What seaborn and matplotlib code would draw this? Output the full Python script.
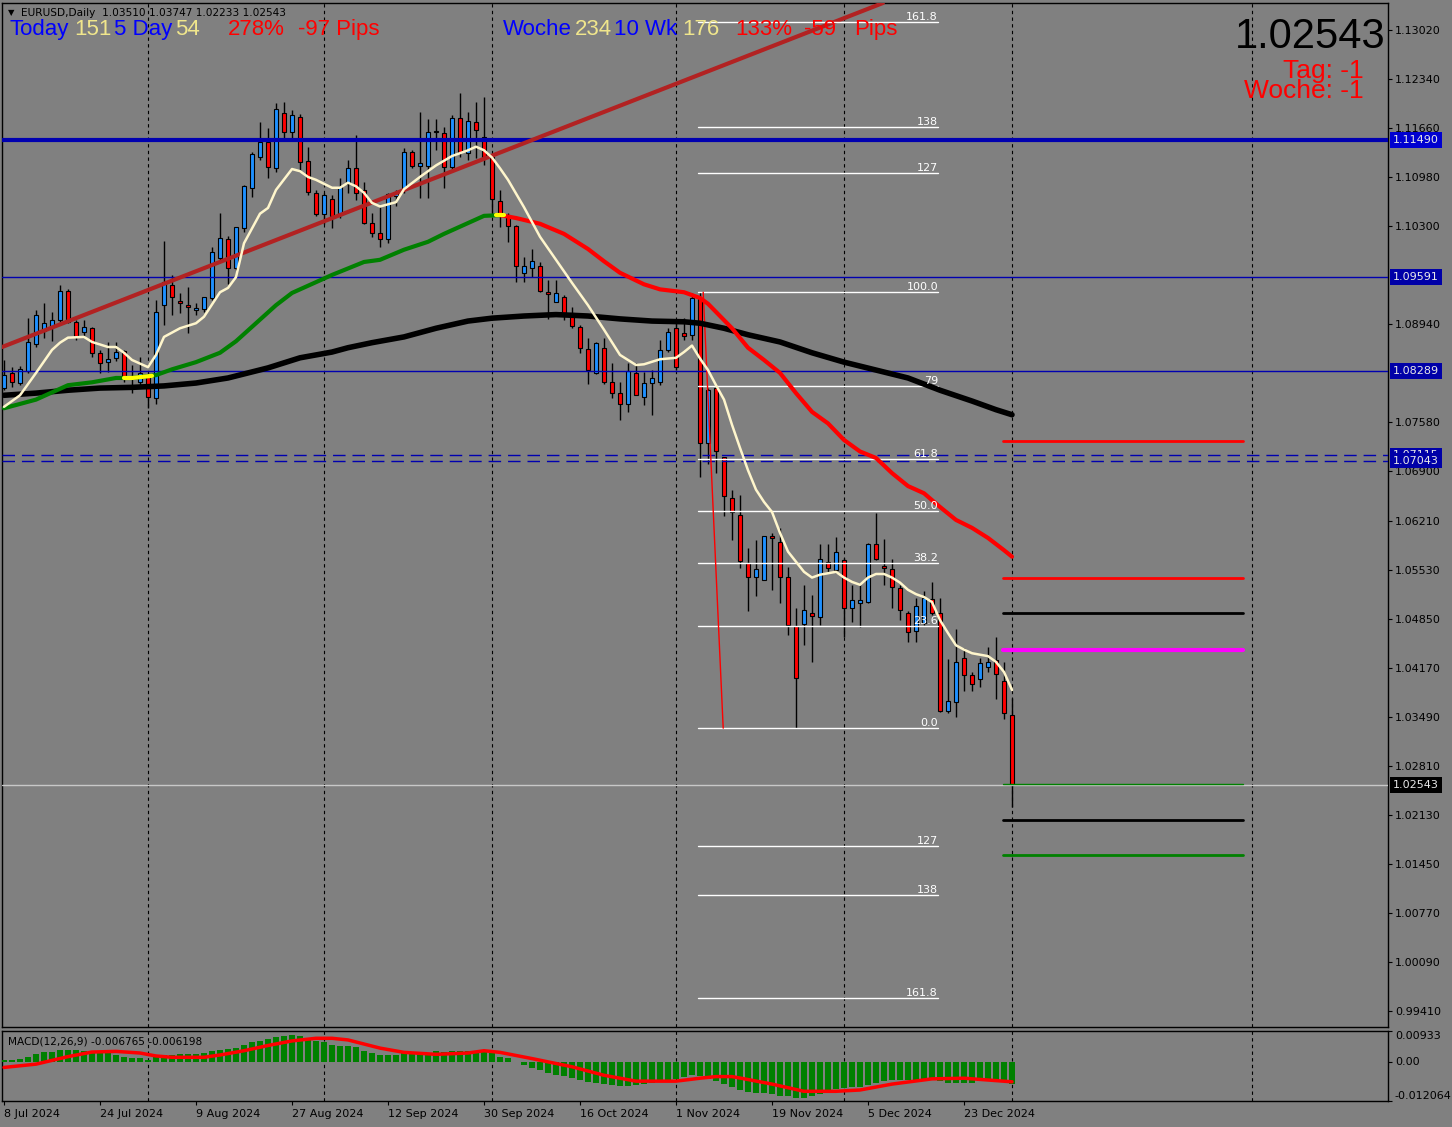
import matplotlib
matplotlib.use("Agg")
import matplotlib.pyplot as plt
import matplotlib.transforms as mtransforms
import numpy as np
import seaborn as sns

# EURUSD daily candles, 8 Jul 2024 .. 2 Jan 2025 (bar index 0..126)
opens = [1.0805, 1.0826, 1.0812, 1.0829, 1.0866, 1.0884, 1.0891, 1.0900, 1.0940, 1.0897,
         1.0883, 1.0888, 1.0854, 1.0841, 1.0847, 1.0857, 1.0822, 1.0813, 1.0823, 1.0791,
         1.0920, 1.0948, 1.0926, 1.0920, 1.0913, 1.0915, 1.0930, 1.0986, 1.1012, 1.0972,
         1.1027, 1.1083, 1.1126, 1.1147, 1.1110, 1.1187, 1.1160, 1.1181, 1.1120, 1.1076,
         1.1047, 1.1067, 1.1045, 1.1088, 1.1110, 1.1080, 1.1034, 1.1020, 1.1012, 1.1072,
         1.1080, 1.1133, 1.1113, 1.1113, 1.1162, 1.1159, 1.1112, 1.1180, 1.1131, 1.1174,
         1.1153, 1.1126, 1.1065, 1.1045, 1.1030, 1.0965, 1.0972, 1.0974, 1.0938, 1.0925,
         1.0931, 1.0909, 1.0890, 1.0859, 1.0826, 1.0861, 1.0813, 1.0798, 1.0783, 1.0826,
         1.0793, 1.0812, 1.0813, 1.0858, 1.0888, 1.0882, 1.0879, 1.0930, 1.0729, 1.0805,
         1.0710, 1.0653, 1.0629, 1.0562, 1.0543, 1.0539, 1.0600, 1.0592, 1.0543, 1.0475,
         1.0478, 1.0493, 1.0487, 1.0564, 1.0553, 1.0566, 1.0500, 1.0507, 1.0508, 1.0589,
         1.0558, 1.0554, 1.0527, 1.0493, 1.0468, 1.0479, 1.0512, 1.0493, 1.0357, 1.0370,
         1.0431, 1.0407, 1.0401, 1.0418, 1.0428, 1.0398, 1.03510]
highs = [1.0844, 1.0834, 1.0836, 1.0902, 1.0913, 1.0923, 1.0911, 1.0948, 1.0943, 1.0900,
         1.0900, 1.0890, 1.0858, 1.0869, 1.0869, 1.0858, 1.0837, 1.0848, 1.0826, 1.0927,
         1.1009, 1.0962, 1.0937, 1.0945, 1.0923, 1.0931, 1.1001, 1.1048, 1.1016, 1.1029,
         1.1087, 1.1133, 1.1174, 1.1166, 1.1201, 1.1202, 1.1191, 1.1185, 1.1140, 1.1080,
         1.1076, 1.1073, 1.1097, 1.1122, 1.1156, 1.1091, 1.1048, 1.1056, 1.1076, 1.1080,
         1.1138, 1.1135, 1.1188, 1.1178, 1.1178, 1.1167, 1.1184, 1.1214, 1.1188, 1.1202,
         1.1209, 1.1129, 1.1080, 1.1048, 1.1031, 1.0987, 1.0998, 1.0980, 1.0955, 1.0955,
         1.0934, 1.0917, 1.0893, 1.0875, 1.0869, 1.0875, 1.0840, 1.0813, 1.0840, 1.0840,
         1.0827, 1.0830, 1.0872, 1.0888, 1.0901, 1.0902, 1.0937, 1.0938, 1.0805, 1.0806,
         1.0710, 1.0664, 1.0657, 1.0583, 1.0594, 1.0600, 1.0604, 1.0611, 1.0557, 1.0500,
         1.0532, 1.0518, 1.0589, 1.0589, 1.0598, 1.0569, 1.0532, 1.0535, 1.0590, 1.0632,
         1.0596, 1.0568, 1.0532, 1.0496, 1.0514, 1.0523, 1.0536, 1.0514, 1.0429, 1.0470,
         1.0444, 1.0411, 1.0431, 1.0446, 1.0460, 1.0425, 1.03747]
lows = [1.0802, 1.0807, 1.0809, 1.0826, 1.0862, 1.0875, 1.0870, 1.0897, 1.0896, 1.0872,
        1.0876, 1.0848, 1.0826, 1.0827, 1.0843, 1.0813, 1.0798, 1.0805, 1.0777, 1.0783,
        1.0893, 1.0906, 1.0909, 1.0882, 1.0906, 1.0911, 1.0927, 1.0980, 1.0949, 1.0969,
        1.1022, 1.1070, 1.1122, 1.1097, 1.1105, 1.1149, 1.1152, 1.1105, 1.1073, 1.1044,
        1.1033, 1.1027, 1.1041, 1.1076, 1.1066, 1.1033, 1.1015, 1.1001, 1.1006, 1.1058,
        1.1076, 1.1110, 1.1069, 1.1069, 1.1135, 1.1083, 1.1108, 1.1126, 1.1122, 1.1124,
        1.1115, 1.1048, 1.1029, 1.1008, 1.0952, 1.0952, 1.0959, 1.0938, 1.0901, 1.0925,
        1.0900, 1.0888, 1.0854, 1.0811, 1.0825, 1.0811, 1.0791, 1.0761, 1.0772, 1.0795,
        1.0781, 1.0768, 1.0809, 1.0855, 1.0830, 1.0872, 1.0872, 1.0682, 1.0700, 1.0687,
        1.0628, 1.0594, 1.0555, 1.0496, 1.0517, 1.0538, 1.0525, 1.0507, 1.0462, 1.0333,
        1.0448, 1.0425, 1.0476, 1.0550, 1.0548, 1.0460, 1.0480, 1.0474, 1.0507, 1.0566,
        1.0532, 1.0500, 1.0483, 1.0453, 1.0453, 1.0476, 1.0490, 1.0356, 1.0354, 1.0349,
        1.0385, 1.0384, 1.0390, 1.0411, 1.0374, 1.0346, 1.02233]
closes = [1.0823, 1.0813, 1.0832, 1.0869, 1.0906, 1.0895, 1.0900, 1.0940, 1.0897, 1.0877,
          1.0890, 1.0854, 1.0840, 1.0845, 1.0855, 1.0822, 1.0819, 1.0826, 1.0793, 1.0911,
          1.0952, 1.0931, 1.0923, 1.0918, 1.0916, 1.0931, 1.0994, 1.1013, 1.0972, 1.1029,
          1.1085, 1.1130, 1.1147, 1.1112, 1.1192, 1.1160, 1.1184, 1.1119, 1.1077, 1.1047,
          1.1073, 1.1044, 1.1084, 1.1110, 1.1076, 1.1034, 1.1020, 1.1012, 1.1074, 1.1076,
          1.1133, 1.1113, 1.1117, 1.1160, 1.1160, 1.1112, 1.1180, 1.1133, 1.1176, 1.1163,
          1.1126, 1.1067, 1.1045, 1.1030, 1.0974, 1.0974, 1.0981, 1.0940, 1.0936, 1.0937,
          1.0909, 1.0891, 1.0861, 1.0830, 1.0868, 1.0813, 1.0798, 1.0783, 1.0829, 1.0796,
          1.0812, 1.0819, 1.0858, 1.0883, 1.0834, 1.0877, 1.0930, 1.0729, 1.0803, 1.0718,
          1.0655, 1.0633, 1.0565, 1.0543, 1.0554, 1.0600, 1.0597, 1.0543, 1.0476, 1.0403,
          1.0497, 1.0489, 1.0568, 1.0555, 1.0578, 1.0500, 1.0511, 1.0511, 1.0589, 1.0568,
          1.0555, 1.0529, 1.0497, 1.0467, 1.0503, 1.0514, 1.0493, 1.0357, 1.0371, 1.0425,
          1.0407, 1.0394, 1.0423, 1.0425, 1.0408, 1.0354, 1.02543]

# moving averages (bar index, price)
fast_idx = [0, 2, 4, 6, 7, 8, 10, 11, 13, 14, 15, 16, 18, 19, 20, 22, 24, 25, 27, 28, 29, 30, 32, 33, 34,
            36, 37, 38, 39, 41, 42, 43, 44, 45, 46, 47, 49, 50, 52, 54, 56, 58, 59, 60, 61, 62, 63, 65,
            67, 69, 71, 73, 75, 77, 79, 80, 82, 84, 85, 86, 87, 88, 89, 90, 91, 92, 93, 94, 95, 96, 97,
            98, 99, 100, 101, 102, 103, 104, 105, 106, 107, 108, 109, 110, 111, 112, 113, 114, 115, 116,
            117, 118, 119, 120, 121, 122, 123, 124, 125, 126]
fast_val = [1.0779, 1.0795, 1.0826, 1.0858, 1.0868, 1.0875, 1.0876, 1.0869, 1.0862, 1.0862, 1.0854,
            1.0844, 1.0834, 1.0851, 1.0876, 1.0888, 1.0895, 1.0904, 1.0938, 1.0944, 1.0959, 1.1006,
            1.1047, 1.1055, 1.1080, 1.1109, 1.1106, 1.1098, 1.1094, 1.1083, 1.1083, 1.1090, 1.1085,
            1.1076, 1.1062, 1.1057, 1.1063, 1.1081, 1.1098, 1.1114, 1.1127, 1.1135, 1.1140, 1.1135,
            1.1125, 1.1110, 1.1094, 1.1056, 1.1015, 1.0983, 1.0951, 1.0920, 1.0886, 1.0851, 1.0837,
            1.0838, 1.0845, 1.0847, 1.0855, 1.0864, 1.0846, 1.0830, 1.0809, 1.0789, 1.0754, 1.0722,
            1.0691, 1.0664, 1.0647, 1.0633, 1.0604, 1.0578, 1.0564, 1.0550, 1.0542, 1.0546, 1.0548,
            1.0550, 1.0542, 1.0536, 1.0532, 1.0542, 1.0547, 1.0547, 1.0542, 1.0535, 1.0525, 1.0519,
            1.0515, 1.0508, 1.0483, 1.0465, 1.0448, 1.0442, 1.0437, 1.0435, 1.0433, 1.0425, 1.0411,
            1.0386]
mid_up_idx = [0, 4, 8, 11, 14, 16, 19, 21, 24, 27, 29, 32, 34, 36, 39, 41, 43, 45, 47, 50, 53, 55,
              58, 60, 62]
mid_up_val = [1.0777, 1.0789, 1.0809, 1.0813, 1.0819, 1.0819, 1.0823, 1.0831, 1.0841, 1.0854, 1.0870,
              1.0900, 1.0920, 1.0937, 1.0952, 1.0962, 1.0971, 1.0980, 1.0983, 1.0997, 1.1008, 1.1019,
              1.1034, 1.1044, 1.1045]
mid_dn_idx = [62, 64, 67, 70, 73, 75, 77, 80, 82, 85, 86, 87, 88, 91, 93, 95, 97, 99, 101, 103, 105,
              107, 109, 111, 113, 115, 117, 119, 121, 123, 125, 126]
mid_dn_val = [1.1045, 1.1041, 1.1033, 1.1019, 1.0998, 1.0981, 1.0965, 1.0949, 1.0942, 1.0938, 1.0934,
              1.0930, 1.0922, 1.0888, 1.0861, 1.0844, 1.0826, 1.0798, 1.0772, 1.0756, 1.0733, 1.0717,
              1.0708, 1.0687, 1.0669, 1.0659, 1.0640, 1.0622, 1.0611, 1.0597, 1.0580, 1.0571]
flip1_idx = [15, 16, 18.5]
flip1_val = [1.0819, 1.0819, 1.0822]
flip2_idx = [61.5, 62.5]
flip2_val = [1.1045, 1.1045]
slow_idx = [0, 4, 8, 12, 16, 20, 24, 28, 33, 37, 41, 43, 46, 50, 54, 58, 61, 65, 69, 73, 77, 81, 85,
            87, 90, 93, 97, 101, 105, 109, 113, 117, 121, 124, 126]
slow_val = [1.0795, 1.0798, 1.0802, 1.0805, 1.0806, 1.0808, 1.0812, 1.0819, 1.0833, 1.0847, 1.0855,
            1.0861, 1.0868, 1.0876, 1.0888, 1.0898, 1.0902, 1.0905, 1.0907, 1.0905, 1.0901, 1.0898,
            1.0897, 1.0895, 1.0888, 1.0879, 1.0869, 1.0854, 1.0841, 1.0830, 1.0819, 1.0802, 1.0787,
            1.0775, 1.0768]

# MACD(12,26,9)
macd_hist = [0.0005, 0.0005, 0.0008, 0.0015, 0.0023, 0.0029, 0.0030, 0.0036, 0.0036, 0.0036,
             0.0033, 0.0030, 0.0026, 0.0026, 0.0021, 0.0015, 0.0010, 0.0010, 0.0005, 0.0015,
             0.0021, 0.0021, 0.0023, 0.0023, 0.0023, 0.0026, 0.0033, 0.0036, 0.0039, 0.0041,
             0.0049, 0.0059, 0.0064, 0.0069, 0.0075, 0.0079, 0.0082, 0.0079, 0.0066, 0.0063,
             0.0059, 0.0049, 0.0046, 0.0046, 0.0043, 0.0033, 0.0026, 0.0021, 0.0021, 0.0021,
             0.0026, 0.0026, 0.0026, 0.0026, 0.0033, 0.0030, 0.0033, 0.0033, 0.0033, 0.0033,
             0.0033, 0.0026, 0.0015, 0.0010, -0.0002, -0.0012, -0.0020, -0.0025, -0.0035, -0.0040,
             -0.0044, -0.0051, -0.0057, -0.0062, -0.0065, -0.0069, -0.0072, -0.0074, -0.0074, -0.0073,
             -0.0069, -0.0066, -0.0061, -0.0056, -0.0052, -0.0047, -0.0040, -0.0044, -0.0054, -0.0061,
             -0.0069, -0.0078, -0.0086, -0.0094, -0.0096, -0.0095, -0.0098, -0.0104, -0.0106, -0.0110,
             -0.0111, -0.0106, -0.0098, -0.0091, -0.0085, -0.0081, -0.0078, -0.0077, -0.0073, -0.0067,
             -0.0061, -0.0057, -0.0055, -0.0055, -0.0057, -0.0056, -0.0055, -0.0061, -0.0067, -0.0067,
             -0.0067, -0.0065, -0.0061, -0.0061, -0.0061, -0.0061, -0.0068]
sig_idx = [0, 4, 8, 11, 14, 17, 19, 21, 25, 27, 30, 33, 36, 39, 41, 43, 47, 50, 54, 58, 60, 62, 66,
           71, 75, 79, 84, 87, 89, 91, 93, 96, 100, 104, 107, 111, 116, 120, 126]
sig_val = [-0.0018, -0.0008, 0.0015, 0.0029, 0.0031, 0.0026, 0.0017, 0.0013, 0.0013, 0.0020, 0.0033,
           0.0049, 0.0063, 0.0071, 0.0071, 0.0066, 0.0041, 0.0028, 0.0022, 0.0026, 0.0033, 0.0028,
           0.0009, -0.0016, -0.0042, -0.0060, -0.0060, -0.0051, -0.0046, -0.0046, -0.0055, -0.0069,
           -0.0091, -0.0091, -0.0087, -0.0069, -0.0053, -0.0051, -0.0062]

# drawn objects
trend_pts = [(0, 1.0863), (110, 1.1340)]
fib_start, fib_end = 86.75, 116.75
fib_labels = ["161.8", "138", "127", "100.0", "79", "61.8", "50.0", "38.2", "23.6", "0.0",
              "127", "138", "161.8"]
fib_prices = [1.1313, 1.1167, 1.1103, 1.0938, 1.0808, 1.0707, 1.0634, 1.0562, 1.0475, 1.0333,
              1.0169, 1.0101, 0.9959]
fib_anchor = [(87.4, 1.0938), (89.9, 1.0333)]
seg_start, seg_end = 124.9, 154.9
seg_prices = [1.0732, 1.0542, 1.0493, 1.0442, 1.0256, 1.0206, 1.0157]
seg_colors = ["#FF0000", "#FF0000", "#000000", "#FF00FF", "#008000", "#000000", "#008000"]
seg_widths = [2, 2, 2, 3, 1, 2, 2]
level_thick = 1.11490
level_thin = [1.09591, 1.08289]
level_dash = [1.07115, 1.07043]
last_price = 1.02543
month_starts = [18, 40, 61, 84, 105, 126, 156]
date_idx = [0, 12, 24, 36, 48, 60, 72, 84, 96, 108, 120]
date_labels = ["8 Jul 2024", "24 Jul 2024", "9 Aug 2024", "27 Aug 2024", "12 Sep 2024",
               "30 Sep 2024", "16 Oct 2024", "1 Nov 2024", "19 Nov 2024", "5 Dec 2024",
               "23 Dec 2024"]
price_ticks = [1.13020, 1.12340, 1.11660, 1.10980, 1.10300, 1.08940, 1.07580, 1.06900, 1.06210,
               1.05530, 1.04850, 1.04170, 1.03490, 1.02810, 1.02130, 1.01450, 1.00770, 1.00090,
               0.99410]

BG = "#808080"
BULL = "#1E90FF"
BEAR = "#FF0000"
CREAM = "#FFF6CC"
LVL = "#0000B0"

sns.set_style("white")
plt.rcParams["font.family"] = ["DejaVu Sans"]

W, H = 1452, 1127
fig = plt.figure(figsize=(W / 100, H / 100), dpi=100, facecolor=BG)
ax = fig.add_axes([2 / W, 1 - 1027 / H, 1386 / W, 1024 / H])
axm = fig.add_axes([2 / W, 1 - 1101 / H, 1386 / W, 70 / H])
for a in (ax, axm):
    a.set_facecolor(BG)
    for s in a.spines.values():
        s.set_color("black")
        s.set_linewidth(1)
    a.set_xlim(-0.25, 173.0)
    for m in month_starts:
        a.axvline(m, color="black", ls=(0, (3, 3)), lw=0.8, zorder=1)

ax.set_ylim(0.99183, 1.13394)
axm.set_ylim(-0.012064, 0.00933)

# candles
idx = np.arange(len(closes))
o = np.array(opens)
c = np.array(closes)
ax.vlines(idx, lows, highs, color="black", lw=1, zorder=3)
ax.bar(idx, c - o, bottom=o, width=0.62, color=np.where(c >= o, BULL, BEAR),
       edgecolor="black", linewidth=0.8, zorder=4)

# horizontal levels
ax.axhline(level_thick, color=LVL, lw=3, zorder=5)
for v in level_thin:
    ax.axhline(v, color=LVL, lw=1, zorder=5)
for v in level_dash:
    ax.axhline(v, color=LVL, lw=1, ls=(0, (9, 5)), zorder=5)
ax.axhline(last_price, color="#C8C8C8", lw=1, zorder=5)

# trendline
ax.axline(trend_pts[0], trend_pts[1], color="#B22222", lw=3, zorder=5)

# fibonacci
for lab, p in zip(fib_labels, fib_prices):
    ax.plot([fib_start, fib_end], [p, p], color="white", lw=1, zorder=6)
    ax.text(fib_end, p, lab, color="white", fontsize=8, ha="right", va="bottom", zorder=7)
ax.plot([fib_anchor[0][0], fib_anchor[1][0]], [fib_anchor[0][1], fib_anchor[1][1]],
        color="#FF0000", lw=1, zorder=6)

# moving averages
sns.lineplot(x=slow_idx, y=slow_val, ax=ax, color="black", linewidth=4, zorder=6)
sns.lineplot(x=mid_up_idx, y=mid_up_val, ax=ax, color="#008000", linewidth=3, zorder=6)
sns.lineplot(x=mid_dn_idx, y=mid_dn_val, ax=ax, color="#FF0000", linewidth=3, zorder=6)
sns.lineplot(x=flip1_idx, y=flip1_val, ax=ax, color="#FFFF00", linewidth=3, zorder=6)
sns.lineplot(x=flip2_idx, y=flip2_val, ax=ax, color="#FFFF00", linewidth=3, zorder=6)
sns.lineplot(x=fast_idx, y=fast_val, ax=ax, color=CREAM, linewidth=1.8, zorder=7)

# right-hand target segments
for p, col, lw in zip(seg_prices, seg_colors, seg_widths):
    ax.plot([seg_start, seg_end], [p, p], color=col, lw=lw, zorder=6)

# price axis
ax.yaxis.tick_right()
ax.set_yticks(price_ticks)
ax.set_yticklabels([f"{v:.5f}" for v in price_ticks])
ax.tick_params(axis="y", right=True, left=False, length=3, width=0.8, pad=2,
               labelsize=8, colors="black")
ax.set_xticks([])
ax.set_xlabel("")
ax.set_ylabel("")

trans = mtransforms.offset_copy(
    mtransforms.blended_transform_factory(ax.transAxes, ax.transData), fig=fig, x=5, y=0,
    units="dots")
boxes = [(level_thick, "#0000D0"), (level_thin[0], "#0000A8"), (level_thin[1], "#0000A8"),
         (level_dash[0], "#0000A8"), (level_dash[1], "#0000A8"), (last_price, "black")]
for v, col in boxes:
    ax.text(1.0, v, f"{v:.5f}", transform=trans, ha="left", va="center", fontsize=8,
            color="#E8E8E8", clip_on=False, zorder=10,
            bbox=dict(boxstyle="square,pad=0.25", fc=col, ec="none"))

# MACD panel
axm.bar(idx, macd_hist, width=0.7, color="#008000", edgecolor="none", linewidth=0, zorder=3)
sns.lineplot(x=sig_idx, y=sig_val, ax=axm, color="#FF0000", linewidth=2.5, zorder=4)
axm.yaxis.tick_right()
axm.set_yticks([0.00933, 0.0, -0.012064])
axm.set_yticklabels(["0.00933", "0.00", "-0.012064"])
for lab, va in zip(axm.get_yticklabels(), ["top", "center", "bottom"]):
    lab.set_va(va)
axm.tick_params(axis="y", right=True, left=False, length=3, width=0.8, pad=2, labelsize=8,
                colors="black")
axm.set_xticks(date_idx)
axm.set_xticklabels(date_labels, ha="left")
axm.tick_params(axis="x", bottom=True, length=3, width=0.8, pad=3, labelsize=8, colors="black")
axm.set_xlabel("")
axm.set_ylabel("")


def ftext(x, y, s, **kw):
    fig.text(x / W, 1 - y / H, s, **kw)


# header and overlays
ftext(8, 13, "\u25BC", fontsize=6, color="black", va="center")
ftext(21, 16, "EURUSD,Daily  1.03510 1.03747 1.02233 1.02543", fontsize=7.6, color="black",
      va="baseline")
axm.text(0.004, 0.85, "MACD(12,26,9) -0.006765 -0.006198", transform=axm.transAxes,
         fontsize=7.6, color="black", va="center", zorder=10)

big = dict(family="Liberation Sans", va="baseline")
for x, s, col in [(9, "Today", "blue"), (74, "151", "#F0E68C"), (114, "5 Day", "blue"),
                  (175, "54", "#F0E68C"), (228, "278%", "red"), (298, "-97 Pips", "red"),
                  (503, "Woche", "blue"), (575, "234", "#F0E68C"), (614, "10 Wk", "blue"),
                  (682, "176", "#F0E68C"), (735, "133%", "red"), (804, "-59", "red"),
                  (854, "Pips", "red")]:
    ftext(x, 35, s, fontsize=16, color=col, **big)
ftext(1385, 48, "1.02543", fontsize=30, color="black", ha="right", **big)
ftext(1364, 78, "Tag: -1", fontsize=19, color="red", ha="right", **big)
ftext(1364, 98, "Woche: -1", fontsize=19, color="red", ha="right", **big)

fig.savefig("out.png", dpi=100, facecolor=BG)
